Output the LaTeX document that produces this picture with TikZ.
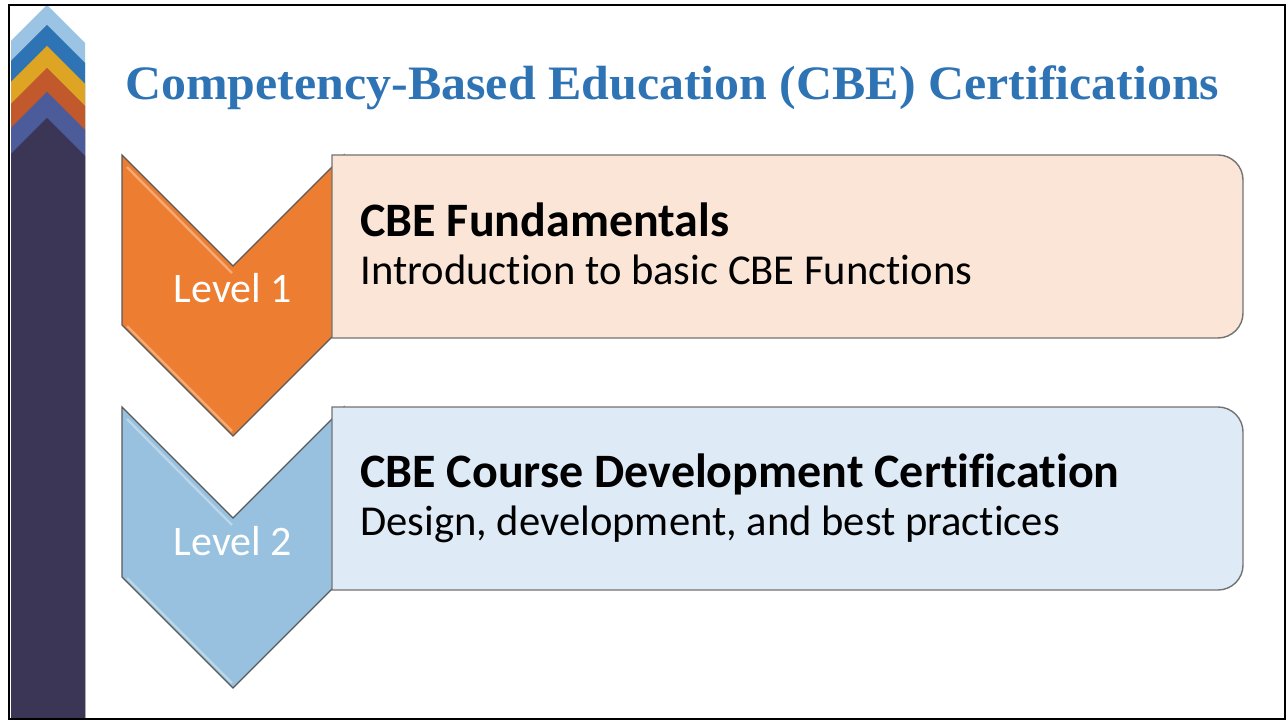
\documentclass[tikz,border=0pt]{standalone}
\usepackage{fontspec}
\setmainfont{Carlito}[Ligatures=NoCommon]
\newfontfamily\titlefont{Liberation Serif}[FakeStretch=1.04]
\definecolor{titleblue}{HTML}{2E74B5}
\definecolor{barA}{HTML}{9BC3E3}
\definecolor{barB}{HTML}{2E74B5}
\definecolor{barC}{HTML}{DEA524}
\definecolor{barD}{HTML}{C1592C}
\definecolor{barE}{HTML}{4C5B9A}
\definecolor{barF}{HTML}{3B3556}
\definecolor{lvlA}{HTML}{ED7D31}
\definecolor{lvlB}{HTML}{97C1DE}
\definecolor{boxA}{HTML}{FBE5D6}
\definecolor{boxB}{HTML}{DEEBF7}
\begin{document}
\begin{tikzpicture}[x=0.5pt,y=-0.5pt,
  chev/.style={draw=black!65,line width=0.6pt},
  bevel/.style={white,opacity=0.35,line width=1.2pt},
  box/.style={draw=black!55,line width=0.7pt},
  lvl/.style={anchor=base,inner sep=0pt,text=white,font=\fontsize{21}{25}\selectfont},
  head/.style={anchor=base west,inner sep=0pt,font=\bfseries\fontsize{24}{29}\selectfont},
  sub/.style={anchor=base west,inner sep=0pt,font=\fontsize{21.3}{26}\selectfont}]
\useasboundingbox (0,0) rectangle (1288,721);
\fill[white] (0,0) rectangle (1288,721);
% side bar
\foreach \c/\y in {barA/5,barB/25,barC/46,barD/68,barE/92,barF/118}
  \fill[\c] (11,719) -- (11,\y+36) -- (47,\y) -- (85,\y+38) -- (85,719) -- cycle;
\node[anchor=base west,inner sep=0pt,text=titleblue,font=\titlefont\bfseries\fontsize{24}{29}\selectfont] (title) at (125,100) {Competency-Based Education (CBE) Certifications};
% chevrons and boxes
\foreach \y/\c/\b in {155/lvlA/boxA,407/lvlB/boxB}{
  \filldraw[chev,fill=\c] (122,\y) -- (233,\y+111) -- (344,\y) -- (344,\y+170) -- (233,\y+281) -- (122,\y+170) -- cycle;
  \draw[bevel] (127,\y+12) -- (232,\y+118);
  \draw[bevel] (127,\y+171) -- (232,\y+276);
  \filldraw[box,fill=\b] (332,\y) -- (1218,\y) arc[start angle=90,end angle=0,radius=12.5pt]
    -- (1243,\y+158) arc[start angle=0,end angle=-90,radius=12.5pt] -- (332,\y+183) -- cycle;
}
\node[lvl] (lvl1) at (233,303) {Level 1};
\node[lvl] (lvl2) at (233,555) {Level 2};
\node[head] (head1) at (360,237) {CBE Fundamentals};
\node[sub] (sub1) at (360,285) {Introduction to basic CBE Functions};
\node[head] (head2) at (360,487) {CBE Course Development Certification};
\node[sub] (sub2) at (360,535) {Design, development, and best practices};
\draw[line width=1.2pt] (9,5) rectangle (1285,719);
\end{tikzpicture}
\end{document}
